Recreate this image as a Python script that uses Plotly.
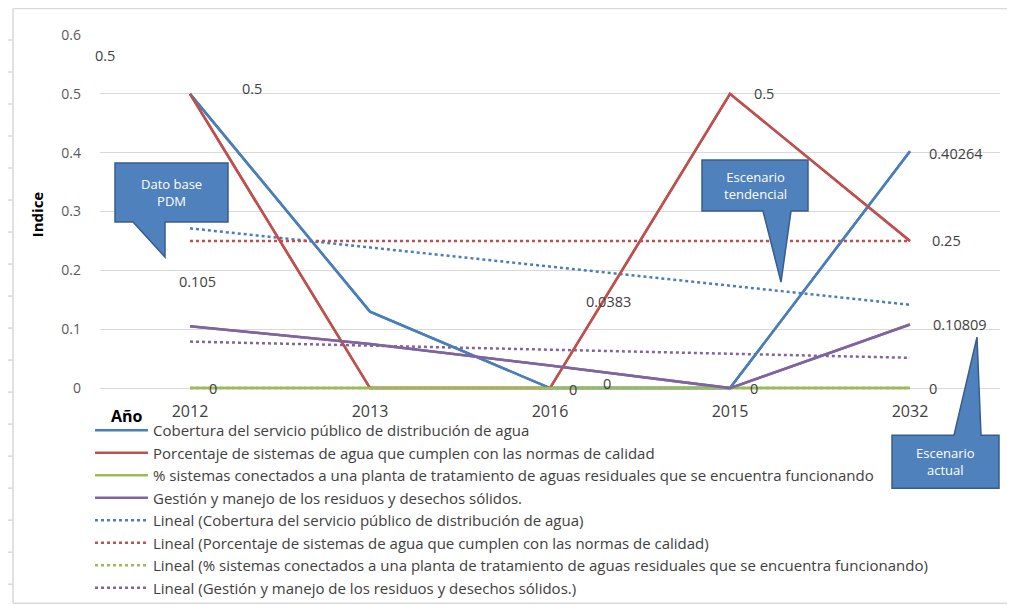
import numpy as np
import plotly.graph_objects as go

# ---------------- data ----------------
categories = ["2012", "2013", "2016", "2015", "2032"]
cobertura = [0.5, 0.13, 0, 0, 0.40264]
porcentaje = [0.5, 0, 0, 0.5, 0.25]
sistemas = [0, 0, 0, 0, 0]
gestion = [0.105, 0.075, 0.0383, 0, 0.10809]

names = [
    "Cobertura del servicio público de distribución de agua",
    "Porcentaje de sistemas de agua que cumplen con las normas de calidad",
    "% sistemas conectados a una planta de tratamiento de aguas residuales que se encuentra funcionando",
    "Gestión y manejo de los residuos y desechos sólidos.",
]
y_ticks = [0, 0.1, 0.2, 0.3, 0.4, 0.5, 0.6]

# ---------------- layout geometry ----------------
# page body has an 8px margin, so the figure is drawn 8px right/down
OFF = 8
W, H = 1015 - OFF, 605 - OFF
YMIN, YMAX = -0.01, 0.6
PLOT_X0, PLOT_X1 = 100 - OFF, 1000 - OFF          # category band edges
Y_TOP, Y_ZERO = 35 - OFF, 388 - OFF               # pixel of 0.6 and of 0
PPU = (Y_ZERO - Y_TOP) / YMAX
PLOT_Y1 = Y_ZERO - YMIN * PPU                       # plot bottom pixel
L, R, T, B = PLOT_X0, W - PLOT_X1, Y_TOP, H - PLOT_Y1
PW, PH = PLOT_X1 - PLOT_X0, PLOT_Y1 - Y_TOP

FONT = "Open Sans"
colors = ["#4A7EBB", "#C0504D", "#9BBB59", "#8064A2"]
series = [cobertura, porcentaje, sistemas, gestion]


def px2paper(px, py):
    """reference-image pixel -> paper coords"""
    fx, fy = px - OFF, py - OFF
    return (fx - PLOT_X0) / PW, (PLOT_Y1 - fy) / PH


fig = go.Figure()
for i, (s, n, c) in enumerate(zip(series, names, colors)):
    fig.add_trace(go.Scatter(x=categories, y=s, mode="lines", name=n,
                             legendgroup=f"g{i}",
                             line=dict(color=c, width=2.5)))

xs = np.arange(1, len(categories) + 1)
for i, (s, n, c) in enumerate(zip(series, names, colors)):
    k, b = np.polyfit(xs, np.array(s, dtype=float), 1)
    trend = k * xs + b
    fig.add_trace(go.Scatter(x=categories, y=trend, mode="lines",
                             name="Lineal (" + n + ")",
                             legendgroup=f"t{i}",
                             line=dict(color=c, width=2.5, dash="dot")))

# re-draw solid series on top of trend lines (not in legend)
for s, c in zip(series, colors):
    fig.add_trace(go.Scatter(x=categories, y=s, mode="lines", showlegend=False,
                             hoverinfo="skip", line=dict(color=c, width=2.5)))

# data labels (attached to points, with Excel-like offsets)
labels = [
    (0, porcentaje[0], "0.5", -85, 38),
    (0, cobertura[0], "0.5", 62, 5),
    (0, gestion[0], "0.105", 7, 45),
    (0, sistemas[0], "0", 23, 0),
    (2, gestion[2], "0.0383", 58, 64),
    (2, cobertura[2], "0", 23, -1),
    (2, sistemas[2], "0", 57, 5),
    (3, porcentaje[3], "0.5", 34, 0),
    (3, sistemas[3], "0", 24, 0),
    (4, cobertura[4], "0.40264", 46, -2),
    (4, porcentaje[4], "0.25", 36, 0),
    (4, gestion[4], "0.10809", 50, 0),
    (4, sistemas[4], "0", 23, 0),
]
for i, v, t, dx, dy in labels:
    fig.add_annotation(x=i, y=v, xref="x", yref="y", text=t,
                       showarrow=False, xshift=dx, yshift=dy,
                       xanchor="center", yanchor="middle",
                       font=dict(family=FONT, size=14.5, color="#404040"))

# callouts
callouts = [
    ("Dato base<br>PDM", (115, 163, 228, 222), (133, 165), (165, 257)),
    ("Escenario<br>tendencial", (702, 160, 808, 211), (763, 791), (781, 282)),
    ("Escenario<br>actual", (892, 435, 999, 488), (954, 981), (977, 337)),
]
for text, (x0, y0, x1, y1), (b0, b1), (tx, ty) in callouts:
    if ty > y1:  # pointer downwards
        pts = [(x0, y0), (x1, y0), (x1, y1), (b1, y1), (tx, ty), (b0, y1), (x0, y1)]
    else:  # pointer upwards
        pts = [(x0, y0), (b0, y0), (tx, ty), (b1, y0), (x1, y0), (x1, y1), (x0, y1)]
    pp = [px2paper(a, b) for a, b in pts]
    path = "M" + " L".join(f"{a:.5f},{b:.5f}" for a, b in pp) + " Z"
    fig.add_shape(type="path", xref="paper", yref="paper", path=path,
                  fillcolor="#4F81BD", line=dict(color="#385D8A", width=1.5),
                  layer="above")
    cx, cy = px2paper((x0 + x1) / 2, (y0 + y1) / 2)
    fig.add_annotation(x=cx, y=cy, xref="paper", yref="paper", text=text,
                       showarrow=False, xanchor="center", yanchor="middle",
                       font=dict(family=FONT, size=13, color="white"))

# outer frame (left & bottom & top)
fl, ft = px2paper(13, OFF + 0.5)
fr, fb = px2paper(1015, 603)
frame = dict(color="#D9D9D9", width=1.5)
fig.add_shape(type="line", xref="paper", yref="paper", x0=fl, x1=fl, y0=fb, y1=ft,
              line=frame, layer="below")
fig.add_shape(type="line", xref="paper", yref="paper", x0=fl, x1=fr, y0=fb, y1=fb,
              line=frame, layer="below")
fig.add_shape(type="line", xref="paper", yref="paper", x0=fl, x1=fr, y0=ft, y1=ft,
              line=frame, layer="below")
for ty in range(40, 600, 32):
    a, yy = px2paper(OFF, ty)
    fig.add_shape(type="line", xref="paper", yref="paper", x0=a, x1=fl, y0=yy, y1=yy,
                  line=frame, layer="below")

# axis title "Año"
ax, ay = px2paper(127, 416)
fig.add_annotation(x=ax, y=ay, xref="paper", yref="paper", text="<b>Año</b>",
                   showarrow=False, xanchor="center", yanchor="middle",
                   font=dict(family=FONT, size=16, color="#000000"))

lx, ly = px2paper(90, 414)
fig.update_layout(
    width=W, height=H,
    margin=dict(l=L, r=R, t=T, b=B, autoexpand=False),
    paper_bgcolor="white", plot_bgcolor="white",
    font=dict(family=FONT, size=14, color="#404040"),
    showlegend=True,
    legend=dict(x=lx, y=ly, xanchor="left", yanchor="top", orientation="v",
                font=dict(family=FONT, size=15, color="#404040"),
                bgcolor="rgba(0,0,0,0)", itemwidth=53, tracegroupgap=0,
                traceorder="normal"),
    xaxis=dict(type="category", range=[-0.5, 4.5], showgrid=False,
               showline=False, zeroline=False, ticks="",
               tickfont=dict(family=FONT, size=16, color="#404040"),
               ticklabelstandoff=6),
    yaxis=dict(range=[YMIN, YMAX], tickvals=y_ticks,
               ticktext=["0" if v == 0 else f"{v:g}" for v in y_ticks],
               showgrid=True, gridcolor="#D9D9D9", gridwidth=1,
               zeroline=False, showline=False,
               tickfont=dict(family=FONT, size=14, color="#595959"),
               ticklabelstandoff=18,
               title=dict(text="<b>Indice</b>", standoff=14,
                          font=dict(family=FONT, size=15, color="#000000"))),
)

fig.write_html("out.html")
